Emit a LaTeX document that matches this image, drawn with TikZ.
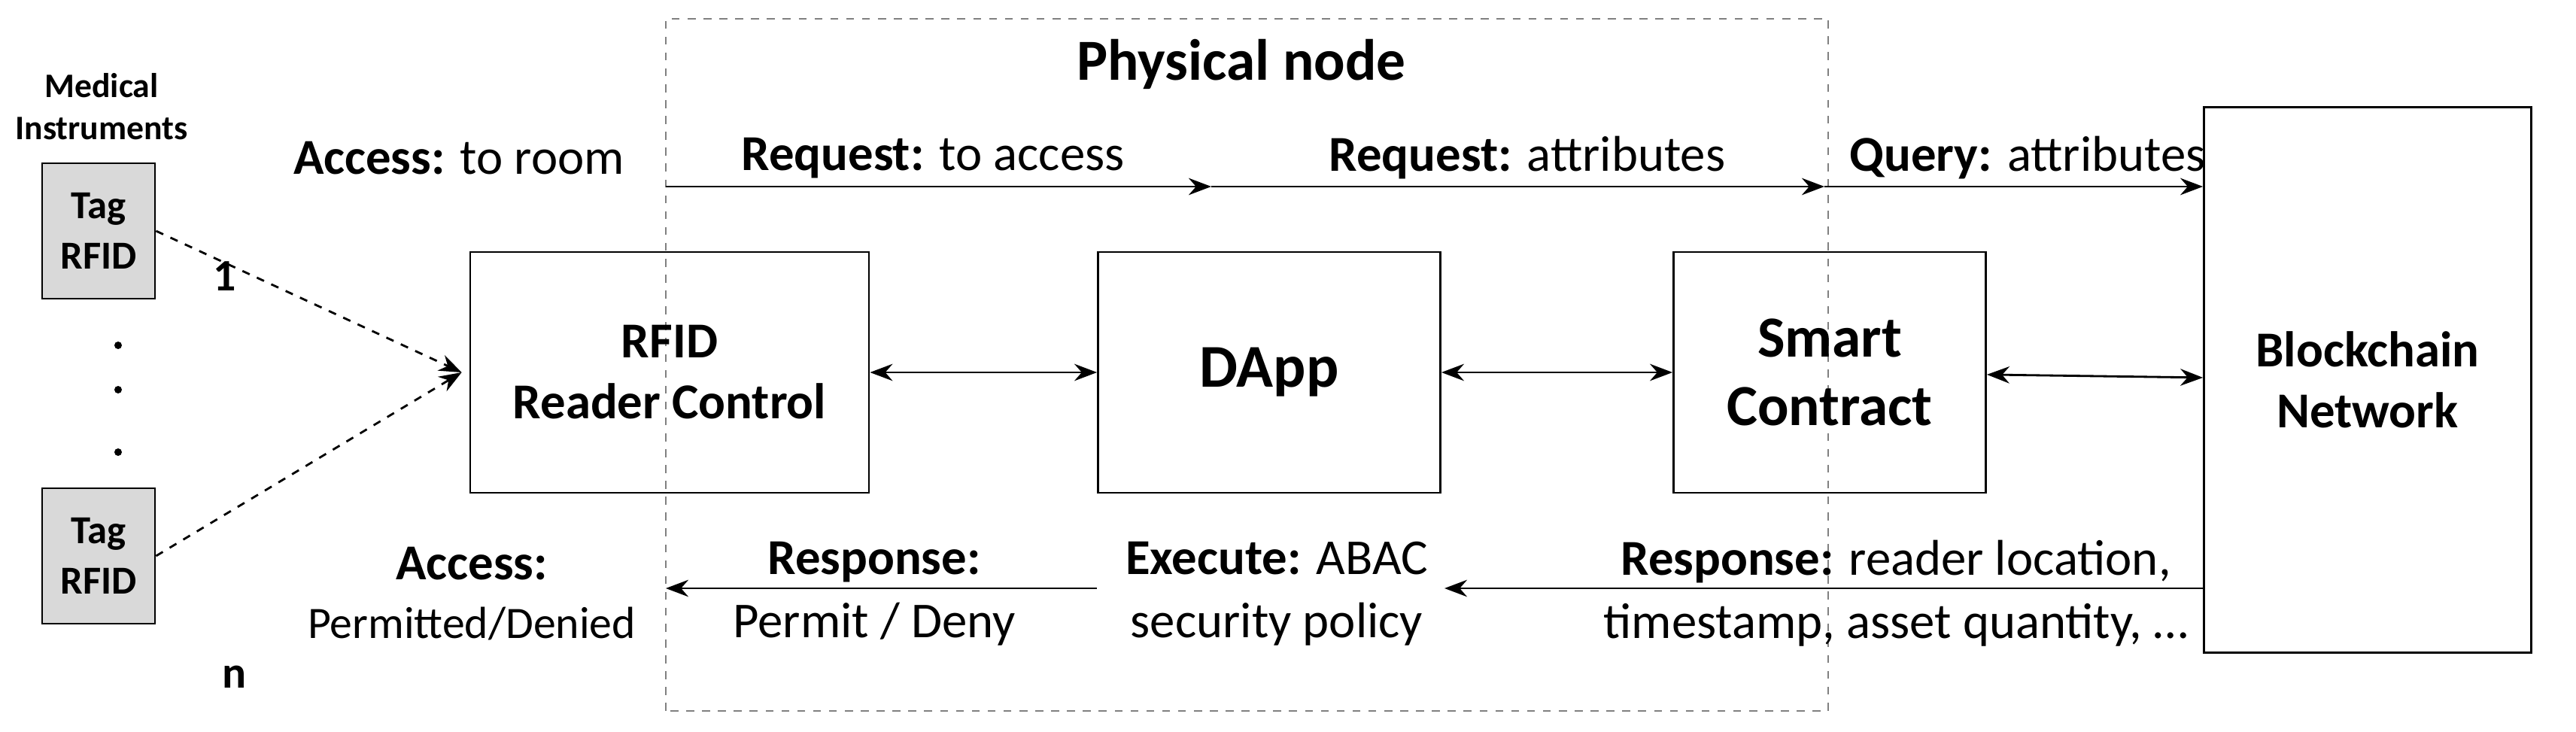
\documentclass[tikz,border=0pt]{standalone}
\usepackage{fontspec}
\setmainfont{Carlito}
\usetikzlibrary{positioning}
\usetikzlibrary{arrows.meta}
\begin{document}
\begin{tikzpicture}[
    block/.style = {draw, thick, align = center, font = \fontsize{19}{23}\selectfont\bfseries},
    tag/.style = {draw, thick, fill = gray!30, minimum width = 1.5cm, minimum height = 1.8cm, align = center, font = \fontsize{15}{19}\selectfont\bfseries},
    lbl/.style = {font = \fontsize{19}{24}\selectfont, align = center},
    arr/.style = {thick, -{Stealth[length = 3mm]}},
    darr/.style = {thick, {Stealth[length = 3mm]}-{Stealth[length = 3mm]}},
    ]
    \useasboundingbox (0, 0) rectangle (34.24, 9.72);
    % physical node
    \draw[gray, dashed, thick] (8.85, 0.27) rectangle (24.3, 9.47);
    \node[font = \fontsize{22}{26}\selectfont\bfseries] (phys) at (16.5, 8.87) {Physical node};
    % tags
    \node[font = \fontsize{13}{16}\selectfont\bfseries, align = center] (med) at (1.35, 8.3) {Medical\\Instruments};
    \node[tag] (tag1) at (1.31, 6.65) {Tag\\RFID};
    \node[tag] (tagn) at (1.31, 2.33) {Tag\\RFID};
    \node[font = \fontsize{17}{20}\selectfont\bfseries] (one) at (2.99, 6.05) {1};
    \node[font = \fontsize{17}{20}\selectfont\bfseries] (n) at (3.12, 0.72) {n};
    \foreach \y in {5.13, 4.54, 3.71}
        \fill (1.57, \y) circle (0.05);
    % main blocks
    \node[block, minimum width = 5.3cm, minimum height = 3.2cm] (rfid) at (8.9, 4.77) {RFID\\Reader Control};
    \node[block, minimum width = 4.55cm, minimum height = 3.2cm, font = \fontsize{23}{27}\selectfont\bfseries] (dapp) at (16.87, 4.77) {DApp};
    \node[block, minimum width = 4.15cm, minimum height = 3.2cm, font = \fontsize{22}{26}\selectfont\bfseries] (sc) at (24.32, 4.77) {Smart\\Contract};
    \node[block, minimum width = 4.35cm, minimum height = 7.25cm] (bc) at (31.47, 4.67) {Blockchain\\Network};
    % tag links
    \draw[thick, dashed, -{Stealth[length = 3mm]}] (tag1.east) -- ([xshift = -1mm]rfid.west);
    \draw[thick, dashed, -{Stealth[length = 3mm]}] (tagn.east) -- ([xshift = -1mm]rfid.west);
    % block links
    \draw[darr] (rfid) -- (dapp);
    \draw[darr] (dapp) -- (sc);
    \draw[darr] (sc) -- (bc);
    % top flow
    \coordinate (t0) at (8.85, 7.24);
    \coordinate (t1) at (16.1, 7.24);
    \coordinate (t2) at (24.25, 7.24);
    \coordinate (t3) at (bc.west |- t0);
    \draw[arr] (t0) -- (t1);
    \draw[arr] (t1) -- (t2);
    \draw[arr] (t2) -- (t3);
    \node[lbl] (acc) at (6.1, 7.62) {\textbf{Access:} to room};
    \node[lbl] (req1) at (12.4, 7.62) {\textbf{Request:} to access};
    \node[lbl] (req2) at (20.3, 7.62) {\textbf{Request:} attributes};
    \node[lbl] (qry) at (26.95, 7.62) {\textbf{Query:} attributes};
    % bottom flow
    \coordinate (b0) at (bc.west |- 0, 1.9);
    \coordinate (b1) at (19.2, 1.9);
    \coordinate (b2) at (dapp.west |- b0);
    \coordinate (b3) at (8.85, 1.9);
    \draw[arr] (b0) -- (b1);
    \draw[arr] (b2) -- (b3);
    \node[lbl] (accp) at (6.27, 1.83) {\textbf{Access:}\\[-2pt]{\fontsize{17}{20}\selectfont Permitted/Denied}};
    \node[lbl] (resp1) at (11.62, 1.83) {\textbf{Response:}\\Permit / Deny};
    \node[lbl] (exec) at (16.97, 1.83) {\textbf{Execute:} ABAC\\security policy};
    \node[lbl] (resp2) at (25.2, 1.83) {\textbf{Response:} reader location,\\timestamp, asset quantity, \dots};
\end{tikzpicture}
\end{document}
